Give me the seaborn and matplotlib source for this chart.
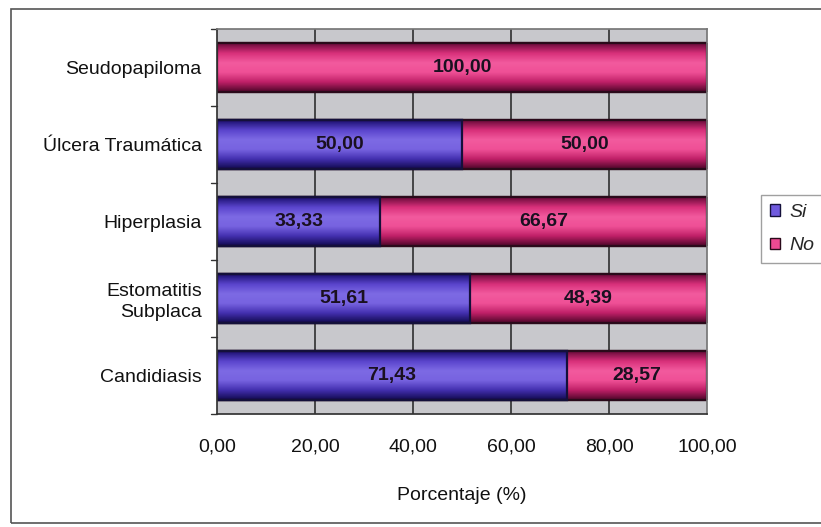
import matplotlib
matplotlib.use("Agg")
import matplotlib.pyplot as plt
import matplotlib.patches as mpatches
from matplotlib.colors import LinearSegmentedColormap
import numpy as np
import seaborn as sns
import pandas as pd

categorias = ["Seudopapiloma", "Úlcera Traumática", "Hiperplasia", "Estomatitis\nSubplaca", "Candidiasis"]
si = [0.00, 50.00, 33.33, 51.61, 71.43]
no = [100.00, 50.00, 66.67, 48.39, 28.57]
ticks_x = [0, 20, 40, 60, 80, 100]

color_si = "#6f5ade"
color_no = "#ee4a92"
fondo = "#c8c8cc"

sns.set_theme(style="white")
plt.rcParams["font.family"] = ["Liberation Sans", "DejaVu Sans"]

df = pd.DataFrame({"cat": categorias, "si": si, "no": no})
df["total"] = df["si"] + df["no"]

fig = plt.figure(figsize=(8.21, 5.27), dpi=100)
ax = fig.add_axes([217 / 821, 1 - 414 / 527, (707 - 217) / 821, (414 - 29) / 527])
ax.set_facecolor(fondo)

sns.barplot(data=df, x="total", y="cat", color=color_no, orient="h", width=0.63,
            edgecolor="#2a0a1a", linewidth=1.6, ax=ax, saturation=1)
n_no = len(ax.patches)
sns.barplot(data=df, x="si", y="cat", color=color_si, orient="h", width=0.63,
            edgecolor="#14103a", linewidth=1.6, ax=ax, saturation=1)

# cylinder-like shading across each bar
cmap_no = LinearSegmentedColormap.from_list(
    "no", ["#6a0a3a", "#d8307a", "#f25a9e", "#ef5096", "#c02068", "#50062a"])
cmap_si = LinearSegmentedColormap.from_list(
    "si", ["#1c1070", "#5a44cc", "#7d6ae4", "#7763e0", "#4430b0", "#120a50"])
grad = np.linspace(0, 1, 64).reshape(-1, 1)
for k, p in enumerate(list(ax.patches)):
    x0, y0 = p.get_x(), p.get_y()
    w, h = p.get_width(), p.get_height()
    if w <= 0:
        continue
    cm = cmap_no if k < n_no else cmap_si
    im = ax.imshow(grad, aspect="auto", cmap=cm, extent=(x0, x0 + w, y0 + h, y0),
                   origin="upper", zorder=p.get_zorder() + 0.01, interpolation="bilinear")
    im.set_clip_path(p)
    edge = mpatches.Rectangle((x0, y0), w, h, fill=False, edgecolor=p.get_edgecolor(),
                              lw=1.6, zorder=p.get_zorder() + 0.02)
    ax.add_patch(edge)

ax.set_xlim(0, 100)
ax.set_ylim(4.5, -0.5)
ax.set_xticks(ticks_x)
ax.set_xticklabels([f"{t:.2f}".replace(".", ",") for t in ticks_x], fontsize=14, color="#111111")
ax.set_yticks(range(len(categorias)))
ax.set_yticklabels(categorias, fontsize=14, linespacing=1.3, color="#111111")
ax.tick_params(axis="y", length=0, pad=11)
ax.tick_params(axis="x", length=5, width=1, pad=13, direction="out", color="#333333")
ax.set_xlabel("Porcentaje (%)", fontsize=14, labelpad=22, color="#111111")
ax.set_ylabel("")

# vertical grid lines
for t in ticks_x[1:-1]:
    ax.axvline(t, color="#222222", lw=1.1, zorder=0.5)
ax.set_axisbelow(True)

# tick marks on y between categories
for b in [-0.5, 0.5, 1.5, 2.5, 3.5, 4.5]:
    ax.plot([-1.2, 0], [b, b], color="#333333", lw=1, clip_on=False)

for s in ["top", "right"]:
    ax.spines[s].set_visible(True)
    ax.spines[s].set_color("#777777")
ax.spines["left"].set_color("#333333")
ax.spines["bottom"].set_color("#333333")

# value labels
for i, (a, b) in enumerate(zip(si, no)):
    if a > 0:
        ax.text(a / 2, i, f"{a:.2f}".replace(".", ","), ha="center", va="center",
                fontsize=14, fontweight="bold", color="#1a1020", zorder=10)
    if b > 0:
        ax.text(a + b / 2, i, f"{b:.2f}".replace(".", ","), ha="center", va="center",
                fontsize=14, fontweight="bold", color="#1a1020", zorder=10)

handles = [mpatches.Patch(facecolor=color_si, edgecolor="#14103a", label="Si"),
           mpatches.Patch(facecolor=color_no, edgecolor="#2a0a1a", label="No")]
leg = fig.legend(handles=handles, loc="upper left", bbox_to_anchor=(761 / 821, 1 - 195 / 527),
                 borderaxespad=0, frameon=True, fancybox=False,
                 handlelength=0.55, handleheight=0.55,
                 handletextpad=0.45, borderpad=0.45, labelspacing=0.85,
                 prop={"style": "italic", "size": 14})
leg.get_frame().set_edgecolor("#888888")
leg.get_frame().set_linewidth(1)

# outer frame of the chart area
fig.patches.append(mpatches.Rectangle((11 / 821, 4 / 527), 1.2, 1 - 13 / 527,
                                      transform=fig.transFigure, fill=False,
                                      edgecolor="#555555", lw=1.2))

fig.savefig("out.png", dpi=100)
